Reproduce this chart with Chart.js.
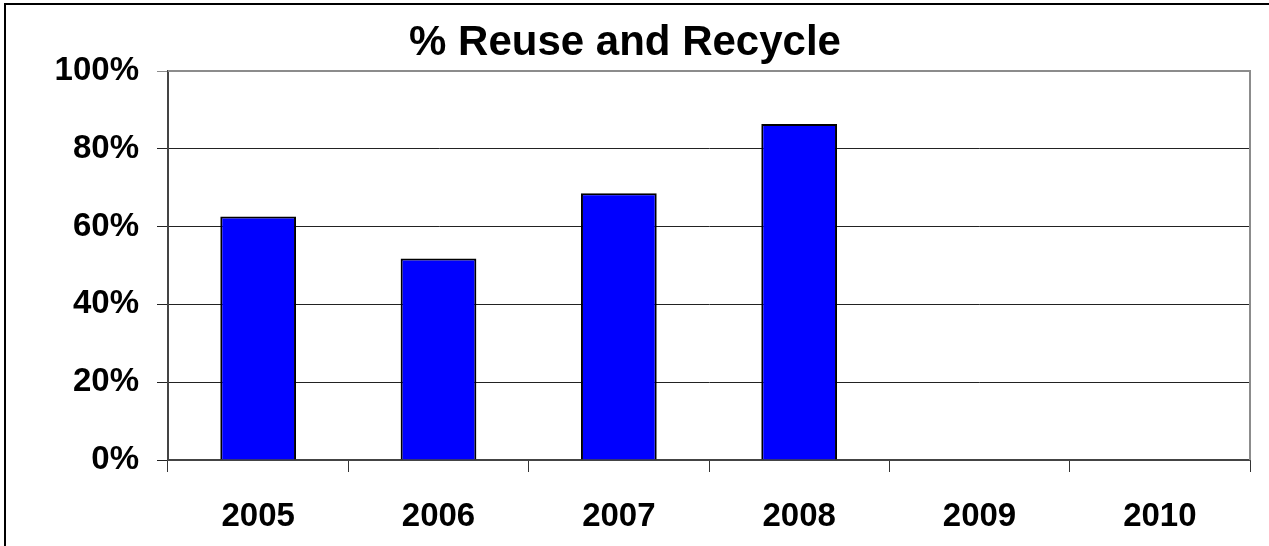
<!DOCTYPE html>
<html lang="en">
<head>
    <meta charset="UTF-8">
    <title>% Reuse and Recycle</title>
    <style>
        body {
            margin: 0;
            background-color: white;
            overflow: hidden;
        }
        .frame {
            position: absolute;
            left: 4px;
            top: 3px;
            width: 1300px;
            height: 600px;
            border-top: 2px solid black;
            border-left: 2px solid black;
        }
        .chart-box {
            position: absolute;
            left: 0;
            top: 0;
            width: 1269px;
            height: 546px;
        }
    </style>
</head>
<body>
    <div class="frame"></div>
    <div class="chart-box">
        <canvas id="recycleChart"></canvas>
    </div>

    <script src="https://cdn.jsdelivr.net/npm/chart.js"></script>

    <script>
        const years = ['2005', '2006', '2007', '2008', '2009', '2010'];
        const reusePercent = [62.6, 51.8, 68.6, 86.4, null, null];
        const yTicks = [0, 20, 40, 60, 80, 100];

        // gray frame on top and right of the plot area
        const plotFrame = {
            id: 'plotFrame',
            afterDraw(chart) {
                const a = chart.chartArea;
                const ctx = chart.ctx;
                ctx.save();
                ctx.strokeStyle = '#8c8c8c';
                ctx.lineWidth = 2;
                ctx.beginPath();
                ctx.moveTo(a.left, a.top);
                ctx.lineTo(a.right, a.top);
                ctx.lineTo(a.right, a.bottom);
                ctx.stroke();
                ctx.restore();
            }
        };

        window.onload = function() {
            const ctx = document.getElementById('recycleChart').getContext('2d');
            new Chart(ctx, {
                type: 'bar',
                data: {
                    labels: years,
                    datasets: [{
                        data: reusePercent,
                        backgroundColor: '#0000ff',
                        borderColor: '#000000',
                        borderWidth: 2,
                        categoryPercentage: 1.0,
                        barPercentage: 0.42
                    }]
                },
                options: {
                    responsive: true,
                    maintainAspectRatio: false,
                    animation: false,
                    layout: {
                        padding: { top: 0, right: 19, left: 0, bottom: 0 }
                    },
                    plugins: {
                        legend: { display: false },
                        tooltip: { enabled: false },
                        title: {
                            display: true,
                            text: '% Reuse and Recycle',
                            color: '#000',
                            font: { family: 'Liberation Sans', size: 42, weight: 'bold' },
                            padding: { top: 18, bottom: 2.6 }
                        }
                    },
                    scales: {
                        x: {
                            grid: {
                                offset: true,
                                drawOnChartArea: false,
                                drawTicks: true,
                                tickLength: 12,
                                color: '#333'
                            },
                            border: { color: '#444', width: 2 },
                            ticks: {
                                color: '#000',
                                padding: 25,
                                font: { family: 'Liberation Sans', size: 33, weight: 'bold' }
                            },
                            afterFit(scale) { scale.height = 86; }
                        },
                        y: {
                            min: 0,
                            max: 100,
                            afterBuildTicks(scale) {
                                scale.ticks = yTicks.map(v => ({ value: v }));
                            },
                            grid: {
                                color: ctx => ctx.tick && ctx.tick.value === 100 ? '#8c8c8c' : '#222',
                                lineWidth: 1,
                                tickLength: 11
                            },
                            border: { color: '#444', width: 2 },
                            ticks: {
                                color: '#000',
                                padding: 18,
                                callback: v => v + '%',
                                font: { family: 'Liberation Sans', size: 33, weight: 'bold' }
                            },
                            afterFit(scale) { scale.width = 168; }
                        }
                    }
                },
                plugins: [plotFrame]
            });
        };
    </script>
</body>
</html>
